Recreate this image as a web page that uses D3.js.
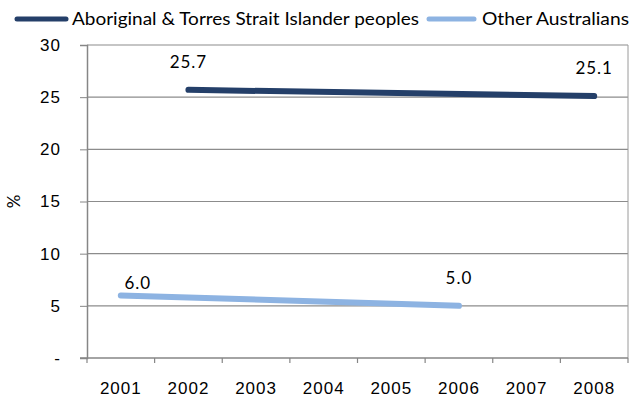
<!DOCTYPE html>
<html>
<head>
<meta charset="utf-8">
<script src="https://cdn.jsdelivr.net/npm/d3@7"></script>
<style>
  html, body { margin: 0; padding: 0; background: #fff; }
  svg { display: block; font-family: Lato, "Open Sans", sans-serif; }
  .axis path, .axis line { stroke: #868686; }
  .axis text { fill: #000; font-size: 17px; letter-spacing: 1px; }
  .value { letter-spacing: 1px; }
</style>
</head>
<body>
<svg id="chart" width="632" height="403"></svg>
<script>
// Category axis and y tick values
const years = ["2001", "2002", "2003", "2004", "2005", "2006", "2007", "2008"];
const yTicks = [0, 5, 10, 15, 20, 25, 30];

// Series: only surveyed years carry a value
const indigenousYears = ["2002", "2008"];
const indigenousValues = [25.7, 25.1];
const otherYears = ["2001", "2006"];
const otherValues = [6.0, 5.0];

const seriesNames = ["Aboriginal & Torres Strait Islander peoples", "Other Australians"];
const seriesColors = ["#243F69", "#8DB3E2"];

const svg = d3.select("#chart");
const margin = { top: 45, right: 4, bottom: 45, left: 87 };
const W = 632, H = 403;

const x = d3.scaleBand().domain(years).range([margin.left, W - margin.right]).paddingInner(0).paddingOuter(0);
const y = d3.scaleLinear().domain([0, 30]).range([H - margin.bottom, margin.top]);
const cx = d => x(d) + x.bandwidth() / 2;

// Horizontal gridlines
svg.append("g")
  .selectAll("line")
  .data(yTicks.filter(v => v > 0))
  .join("line")
  .attr("x1", margin.left).attr("x2", W - margin.right)
  .attr("y1", d => y(d)).attr("y2", d => y(d))
  .attr("stroke", "#8c8c8c").attr("stroke-width", 1.2);

// Right border of plot area
svg.append("line")
  .attr("x1", W - margin.right).attr("x2", W - margin.right)
  .attr("y1", y(30)).attr("y2", y(0))
  .attr("stroke", "#9a9a9a").attr("stroke-width", 1);

// Y axis
const yAxis = svg.append("g")
  .attr("class", "axis")
  .attr("transform", `translate(${margin.left},0)`)
  .call(d3.axisLeft(y).tickValues(yTicks).tickSize(7).tickPadding(19)
    .tickFormat(d => d === 0 ? "-" : d3.format("d")(d)));
yAxis.select(".domain").attr("stroke-width", 1.5);

// X axis: labels centred in bands, tick marks on band edges
const xAxis = svg.append("g")
  .attr("class", "axis")
  .attr("transform", `translate(0,${y(0)})`)
  .call(d3.axisBottom(x).tickSize(0).tickPadding(24));
xAxis.select(".domain").remove();
xAxis.append("line")
  .attr("x1", margin.left - 7).attr("x2", W - margin.right)
  .attr("stroke", "#868686").attr("stroke-width", 1.5);
xAxis.selectAll(".edge")
  .data(years.map(d => x(d)).concat([W - margin.right]))
  .join("line")
  .attr("class", "edge")
  .attr("x1", d => d).attr("x2", d => d)
  .attr("y1", 0).attr("y2", 5)
  .attr("stroke", "#868686").attr("stroke-width", 1.2);

// Y axis title
svg.append("text")
  .attr("transform", `translate(20,${(y(0) + y(30)) / 2}) rotate(-90)`)
  .attr("text-anchor", "middle")
  .attr("font-size", 17)
  .text("%");

// Lines
const line = d3.line().x(d => cx(d.year)).y(d => y(d.value));
const series = [
  { name: seriesNames[0], color: seriesColors[0], pts: indigenousYears.map((yr, i) => ({ year: yr, value: indigenousValues[i] })) },
  { name: seriesNames[1], color: seriesColors[1], pts: otherYears.map((yr, i) => ({ year: yr, value: otherValues[i] })) }
];
svg.append("g").selectAll("path")
  .data(series)
  .join("path")
  .attr("d", s => line(s.pts))
  .attr("fill", "none")
  .attr("stroke", s => s.color)
  .attr("stroke-width", 6)
  .attr("stroke-linecap", "round");

// Value labels
const labelOffset = { "Other Australians|2001": [17, -6] };
series.forEach(s => {
  svg.append("g").selectAll("text")
    .data(s.pts)
    .join("text")
    .attr("class", "value")
    .attr("x", d => cx(d.year) + (labelOffset[s.name + "|" + d.year] || [0, -22])[0])
    .attr("y", d => y(d.value) + (labelOffset[s.name + "|" + d.year] || [0, -22])[1])
    .attr("text-anchor", "middle")
    .attr("font-size", 17)
    .text(d => d3.format(".1f")(d.value));
});

// Legend
const legendItems = [
  { x: 15, len: 53, textX: 72, textLen: 347 },
  { x: 427, len: 49, textX: 482, textLen: 147 }
];
const lg = svg.append("g");
series.forEach((s, i) => {
  const it = legendItems[i];
  lg.append("line")
    .attr("x1", it.x + 2).attr("x2", it.x + it.len - 2)
    .attr("y1", 19).attr("y2", 19)
    .attr("stroke", s.color).attr("stroke-width", 5)
    .attr("stroke-linecap", "round");
  lg.append("text")
    .attr("x", it.textX).attr("y", 25)
    .attr("font-size", 17)
    .attr("textLength", it.textLen)
    .attr("lengthAdjust", "spacingAndGlyphs")
    .text(s.name);
});
</script>
</body>
</html>
